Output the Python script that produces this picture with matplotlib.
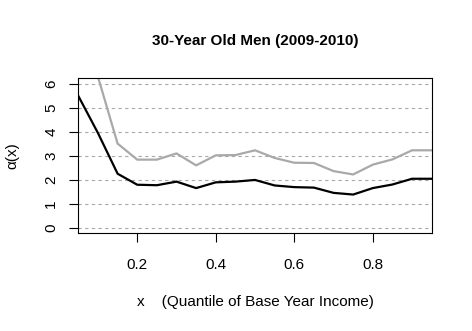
import numpy as np
import matplotlib
matplotlib.use('Agg')
import matplotlib.pyplot as plt

plt.rcParams['font.family'] = ['Liberation Sans', 'DejaVu Sans']

# quantiles of base year income
x = [0.05, 0.10, 0.15, 0.20, 0.25, 0.30, 0.35, 0.40, 0.45, 0.50,
     0.55, 0.60, 0.65, 0.70, 0.75, 0.80, 0.85, 0.90, 0.95]

# black series
alpha_black = [5.50, 3.95, 2.25, 1.79, 1.77, 1.92, 1.65, 1.89, 1.92, 1.99,
               1.76, 1.69, 1.67, 1.45, 1.38, 1.65, 1.80, 2.04, 2.04]

# gray series
alpha_gray = [8.80, 6.30, 3.51, 2.84, 2.84, 3.10, 2.60, 3.02, 3.03, 3.23,
              2.91, 2.71, 2.70, 2.36, 2.22, 2.63, 2.85, 3.23, 3.23]

y_ticks = [0, 1, 2, 3, 4, 5, 6]
x_ticks = [0.2, 0.4, 0.6, 0.8]

fig = plt.figure(figsize=(4.72, 3.31), dpi=100)
ax = fig.add_axes([0.166, 0.2952, 0.7486, 0.4682])

for yv in y_ticks:
    ax.axhline(yv, color='#a8a8a8', lw=0.8, linestyle=(0, (3, 3)), zorder=1)

ax.plot(x, alpha_gray, color='#a9a9a9', lw=1.6, zorder=2)
ax.plot(x, alpha_black, color='black', lw=1.6, zorder=3)

ax.set_xlim(0.05, 0.95)
ax.set_ylim(-0.24, 6.24)
ax.set_xticks(x_ticks)
ax.set_xticklabels(['0.2', '0.4', '0.6', '0.8'], fontsize=11)
ax.set_yticks(y_ticks)
ax.set_yticklabels([str(v) for v in y_ticks], fontsize=11, rotation=90, va='center')
ax.tick_params(axis='both', direction='out', length=6.5, width=0.8, color='black')
ax.tick_params(axis='x', pad=11)
ax.tick_params(axis='y', pad=8)

for s in ax.spines.values():
    s.set_linewidth(0.8)
    s.set_color('black')

ax.set_title('30-Year Old Men (2009-2010)', fontsize=11, fontweight='bold', pad=24)
ax.set_xlabel('x    (Quantile of Base Year Income)', fontsize=11, labelpad=17)
ax.set_ylabel('α(x)', fontsize=11, labelpad=18)

fig.savefig('out.png', dpi=100)
